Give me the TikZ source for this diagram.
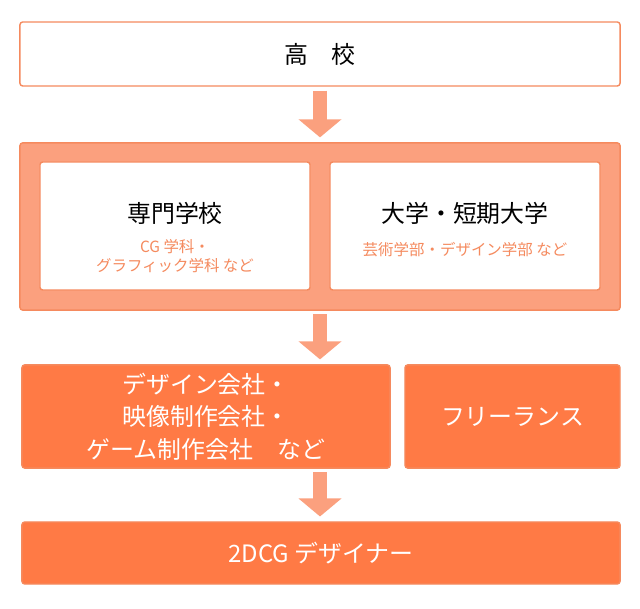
\documentclass[tikz,border=0pt]{standalone}
\usepackage{fontspec}
\setmainfont{Noto Sans CJK JP}
\usetikzlibrary{arrows.meta,positioning}
\definecolor{salmon}{HTML}{FBA07E}
\definecolor{deeporange}{HTML}{FF7A45}
\definecolor{edgeorange}{HTML}{F58A5E}
\begin{document}
\begin{tikzpicture}
[x=0.025cm, y=-0.025cm, >=Latex,
 box/.style={draw=edgeorange, line width=1pt, rounded corners=2pt, align=center, inner sep=0pt},
 whitebox/.style={box, fill=white, font=\fontsize{17}{22}\selectfont},
 filled/.style={box, fill=deeporange, text=white, font=\fontsize{17}{23}\selectfont},
 sub/.style={text=edgeorange, font=\fontsize{11}{14}\selectfont, align=center},
 flow/.style={draw=salmon, line width=0.36cm, -{Triangle[width=1.05cm,length=0.45cm]}}]
% Bounding box
\useasboundingbox (0,0) rectangle (640,609);

% Nodes placement
\node [whitebox, minimum width=15cm, minimum height=1.6cm] (school) at (320,54) {高\quad 校};
\node [box, fill=salmon, minimum width=15cm, minimum height=4.18cm] (study) at (320,226.5) {};
\node [whitebox, minimum width=6.75cm, minimum height=3.2cm] (senmon) at (175,226) {};
\node [whitebox, minimum width=6.75cm, minimum height=3.2cm] (daigaku) at (465,226) {};
\node [font=\fontsize{17}{22}\selectfont] (senmonlabel) at (175,213) {専門学校};
\node [sub] (senmonsub) at (175,256) {CG 学科・\\グラフィック学科 など};
\node [font=\fontsize{17}{22}\selectfont] (daigakulabel) at (465,213) {大学・短期大学};
\node [sub] (daigakusub) at (465,250) {芸術学部・デザイン学部 など};
\node [filled, minimum width=9.2cm, minimum height=2.58cm] (company) at (206,416.5) {デザイン会社・\\映像制作会社・\\ゲーム制作会社\quad など};
\node [filled, minimum width=5.375cm, minimum height=2.58cm] (freelance) at (512.5,416.5) {フリーランス};
\node [filled, minimum width=14.95cm, minimum height=1.55cm] (designer) at (321,553) {2DCG デザイナー};

% Draw arrows
\draw [flow] ([yshift=-0.1cm]school.south) -- ([yshift=0.12cm]study.north);
\draw [flow] ([yshift=-0.08cm]study.south) -- ([yshift=0.12cm]study.south |- company.north);
\draw [flow] ([yshift=-0.08cm]study.south |- company.south) -- ([yshift=0.12cm]study.south |- designer.north);
\end{tikzpicture}
\end{document}
